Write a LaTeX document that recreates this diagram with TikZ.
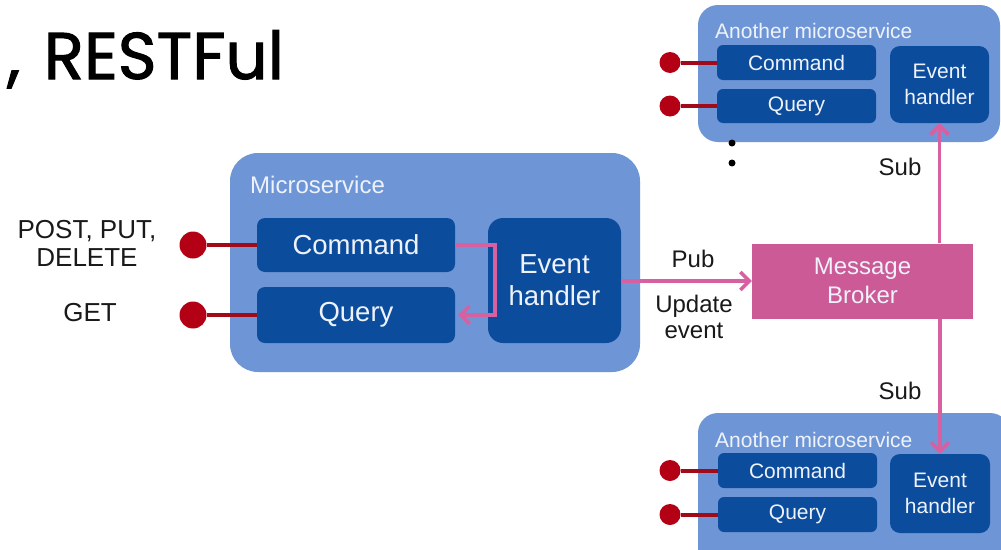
\documentclass[tikz,border=0pt]{standalone}
\usepackage{fontspec}
\setmainfont{Liberation Sans}
\newfontfamily\handfont{Poppins}[FakeBold=1.6]
\usetikzlibrary{arrows.meta}
\definecolor{cont}{RGB}{110,150,214}
\definecolor{dark}{RGB}{12,76,156}
\definecolor{broker}{RGB}{204,90,150}
\definecolor{pinkline}{RGB}{214,96,160}
\definecolor{reddot}{RGB}{180,0,20}
\definecolor{redline}{RGB}{160,10,25}
\definecolor{wtext}{RGB}{238,242,250}
\definecolor{btext}{RGB}{25,25,25}
\tikzset{
  container/.style={fill=cont, draw=none, rounded corners=#1, inner sep=0pt},
  container/.default=26pt,
  dbox/.style={fill=dark, draw=none, rounded corners=#1, text=wtext, align=center, inner sep=0pt},
  dbox/.default=8pt,
  bigfont/.style={font=\fontsize{27.5}{32}\selectfont},
  smallfont/.style={font=\fontsize{21}{26}\selectfont},
  dotnode/.style={circle, fill=reddot, draw=none, minimum size=#1, inner sep=0pt},
  dotnode/.default=27pt,
  redconn/.style={draw=redline, line width=4pt},
  pinkconn/.style={draw=pinkline, line width=3.5pt, -{Straight Barb[length=9pt,width=18pt,line width=3.5pt]}},
  lbl/.style={text=btext, align=center, inner sep=0pt},
}
\begin{document}
\begin{tikzpicture}[x=1pt,y=-1pt]
\useasboundingbox (0,0) rectangle (1001,549);
\clip (0,0) rectangle (1001,549);
\fill[white] (0,0) rectangle (1001,549);

% hand-written heading fragment
\node[anchor=base west, inner sep=0pt, text=black, font=\handfont\fontsize{66}{66}\selectfont] (head) at (7,79) {,\hspace{6pt} RESTFul};

% main microservice
\node[container=28pt, minimum width=410pt, minimum height=219pt] (ms) at (435,262.5) {};
\node[anchor=west, inner sep=0pt, text=wtext, font=\fontsize{24}{28}\selectfont] (mslbl) at (250,185) {Microservice};
\node[dbox, bigfont, minimum width=198pt, minimum height=54pt] (cmd) at (356,245) {Command};
\node[dbox, bigfont, minimum width=198pt, minimum height=56pt] (qry) at (356,315) {Query};
\node[dbox=15pt, bigfont, minimum width=133pt, minimum height=125pt] (eh) at (554.5,280.5) {Event\\handler};

\node[dotnode] (d1) at (193,245) {};
\node[dotnode] (d2) at (193,315) {};
\draw[redconn] (d1) -- (cmd.west);
\draw[redconn] (d2) -- (qry.west);
\node[lbl, font=\fontsize{26}{28}\selectfont] (postlbl) at (87,243) {POST, PUT,\\DELETE};
\node[lbl, font=\fontsize{26}{28}\selectfont] (getlbl) at (90,313) {GET};

\draw[pinkconn] (cmd.east) -- ++(40,0) |- ([xshift=3pt]qry.east);

% message broker
\node[fill=broker, draw=none, minimum width=221pt, minimum height=75pt, inner sep=0pt, text=wtext, align=center, font=\fontsize{24}{29}\selectfont] (mb) at (862.5,281) {Message\\Broker};
\draw[pinkconn] (eh.east |- mb.west) -- (mb.west);
\node[lbl, font=\fontsize{24}{26}\selectfont] (pub) at (693,259) {Pub};
\node[lbl, font=\fontsize{24}{26}\selectfont] (upd) at (694,317) {Update\\event};

% top another microservice
\node[container=20pt, minimum width=302pt, minimum height=137pt] (ms2) at (849,73.5) {};
\node[anchor=west, inner sep=0pt, text=wtext, smallfont] (ms2lbl) at (715,31) {Another microservice};
\node[dbox=6pt, smallfont, minimum width=159pt, minimum height=35pt] (cmd2) at (796.5,62.5) {Command};
\node[dbox=6pt, smallfont, minimum width=159pt, minimum height=34pt] (qry2) at (796.5,106) {Query};
\node[dbox=10pt, smallfont, minimum width=99pt, minimum height=77pt] (eh2) at (939.5,84.5) {Event\\handler};
\node[dotnode=21pt] (d3) at (670,62.5) {};
\node[dotnode=21pt] (d4) at (670,106) {};
\draw[redconn] (d3) -- (cmd2.west);
\draw[redconn] (d4) -- (qry2.west);
\fill[black] (732,143) circle (3.5pt);
\fill[black] (732,163) circle (3.5pt);
\node[lbl, font=\fontsize{24}{26}\selectfont] (sub1) at (900,167) {Sub};
\draw[pinkconn] (eh2.south |- mb.north) -- (eh2.south);

% bottom another microservice
\node[container=20pt, minimum width=312pt, minimum height=157pt] (ms3) at (854,491.5) {};
\node[anchor=west, inner sep=0pt, text=wtext, smallfont] (ms3lbl) at (715,440) {Another microservice};
\node[dbox=6pt, smallfont, minimum width=159pt, minimum height=35pt] (cmd3) at (797.5,470.5) {Command};
\node[dbox=6pt, smallfont, minimum width=159pt, minimum height=35pt] (qry3) at (797.5,514.5) {Query};
\node[dbox=10pt, smallfont, minimum width=100pt, minimum height=79pt] (eh3) at (940,493.5) {Event\\handler};
\node[dotnode=21pt] (d5) at (670,470.5) {};
\node[dotnode=21pt] (d6) at (670,514.5) {};
\draw[redconn] (d5) -- (cmd3.west);
\draw[redconn] (d6) -- (qry3.west);
\node[lbl, font=\fontsize{24}{26}\selectfont] (sub2) at (900,391) {Sub};
\draw[pinkconn] (eh3.north |- mb.south) -- (eh3.north);
\end{tikzpicture}
\end{document}
